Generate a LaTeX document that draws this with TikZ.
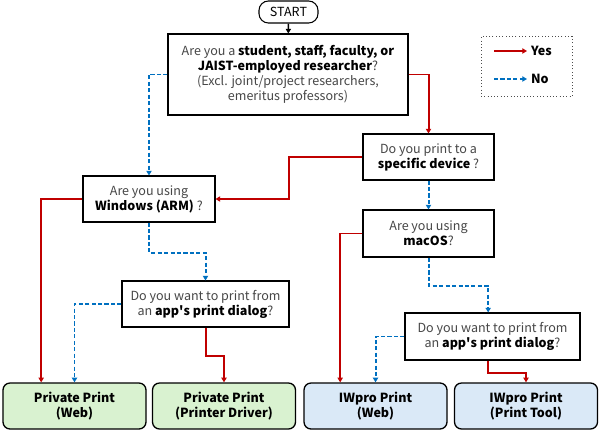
\documentclass[tikz,border=0pt]{standalone}
\usepackage{fontspec}
\setmainfont{Noto Sans CJK JP}
\usetikzlibrary{arrows.meta}

\definecolor{yesred}{HTML}{C00000}
\definecolor{noblue}{HTML}{0070C0}
\definecolor{privgreen}{HTML}{D9F2D0}
\definecolor{iwblue}{HTML}{DAE9F7}
\newcommand{\kw}[1]{\textbf{\color{black}#1}}

\begin{document}
\begin{tikzpicture}[
  x=0.03cm,
  y=-0.03cm,
  every node/.style={font=\fontsize{10.7}{12.8}\selectfont, text=black!72, align=center},
  question/.style={draw, line width=0.9pt, fill=white, inner sep=2pt},
  outcome/.style={draw, line width=1.1pt, rounded corners=6pt,
    minimum width=4.29cm, minimum height=1.38cm, text=black,
    font=\fontsize{10.7}{12.8}\selectfont\bfseries},
  yes/.style={draw=yesred, line width=1.7pt, -{Triangle[length=4pt,width=4.5pt]}},
  no/.style={draw=noblue, line width=1.7pt, dash pattern=on 3.5pt off 2pt,
    -{Triangle[length=4pt,width=4.5pt]}}
]
\useasboundingbox (0,0) rectangle (600,431);

% ------------------------------------------------------------------
% Start and first question
% ------------------------------------------------------------------
\node[draw, line width=0.9pt, rounded corners=8pt, minimum width=1.77cm,
  minimum height=0.66cm, text=black] (start) at (288.5,12) {START};

\node[question, minimum width=7.2cm, minimum height=2.43cm] (staff) at (288,74.5)
  {Are you a \kw{student, staff, faculty, or}\\
   \kw{JAIST-employed researcher}?\\
   (Excl. joint/project researchers,\\
   emeritus professors)};

\draw[line width=1.2pt, -{Triangle[length=4pt,width=4.5pt]}] (start) -- (staff);

% ------------------------------------------------------------------
% Legend
% ------------------------------------------------------------------
\node[draw=black!70, dotted, line width=0.8pt, minimum width=2.73cm,
  minimum height=1.8cm] (legend) at (526.5,66.5) {};
\coordinate (ystart) at (494,51);
\coordinate (nstart) at (494,79);
\node[anchor=west, text=black, font=\fontsize{10.7}{12.8}\selectfont\bfseries]
  (ytxt) at (527,51) {Yes};
\node[anchor=west, text=black, font=\fontsize{10.7}{12.8}\selectfont\bfseries]
  (ntxt) at (527,79) {No};
\draw[yes] (ystart) -- (ytxt.west);
\draw[no] (nstart) -- (ntxt.west);

% ------------------------------------------------------------------
% Questions
% ------------------------------------------------------------------
\node[question, minimum width=3.93cm, minimum height=1.38cm] (device) at (428.5,157)
  {Do you print to a\\ \kw{specific device} ?};
\node[question, minimum width=3.96cm, minimum height=1.38cm] (windows) at (149,199)
  {Are you using\\ \kw{Windows (ARM)} ?};
\node[question, minimum width=3.93cm, minimum height=1.41cm] (macos) at (428.5,233.5)
  {Are you using\\ \kw{macOS}?};
\node[question, minimum width=5.01cm, minimum height=1.38cm] (dialogL) at (205.5,304)
  {Do you want to print from\\ an \kw{app\textquotesingle s print dialog}?};
\node[question, minimum width=5.25cm, minimum height=1.41cm] (dialogR) at (492.5,336.5)
  {Do you want to print from\\ an \kw{app\textquotesingle s print dialog}?};

% ------------------------------------------------------------------
% Outcomes
% ------------------------------------------------------------------
\node[outcome, fill=privgreen] (privweb) at (74.5,406) {Private Print\\ (Web)};
\node[outcome, fill=privgreen] (privdrv) at (224,406) {Private Print\\ (Printer Driver)};
\node[outcome, fill=iwblue] (iwweb) at (375.5,406) {IWpro Print\\ (Web)};
\node[outcome, fill=iwblue] (iwtool) at (526,406) {IWpro Print\\ (Print Tool)};

% ------------------------------------------------------------------
% Connectors
% ------------------------------------------------------------------
\draw[no] (staff.west) -| (windows.north);
\draw[yes] (staff.east) -| (device.north);

\draw[yes] (device.west) -- ++(-73,0) |- (windows.east);
\draw[no] (device) -- (macos);

\draw[yes] (windows.west) -| ([xshift=-1cm]privweb.north);
\draw[no] (windows.south) -- ++(0,30) -| (dialogL.north);

\draw[no] (dialogL.west) -| (privweb.north);
\draw[yes] (dialogL.south) -- ++(0,28) -| (privdrv.north);

\draw[yes] (macos.west) -| ([xshift=-1.06cm]iwweb.north);
\draw[no] (macos.south) -- ++(0,28) -| ([xshift=-0.13cm]dialogR.north);

\draw[no] (dialogR.west) -| (iwweb.north);
\draw[yes] ([xshift=-0.13cm]dialogR.south) -- ++(0,12) -| (iwtool.north);

\end{tikzpicture}
\end{document}
